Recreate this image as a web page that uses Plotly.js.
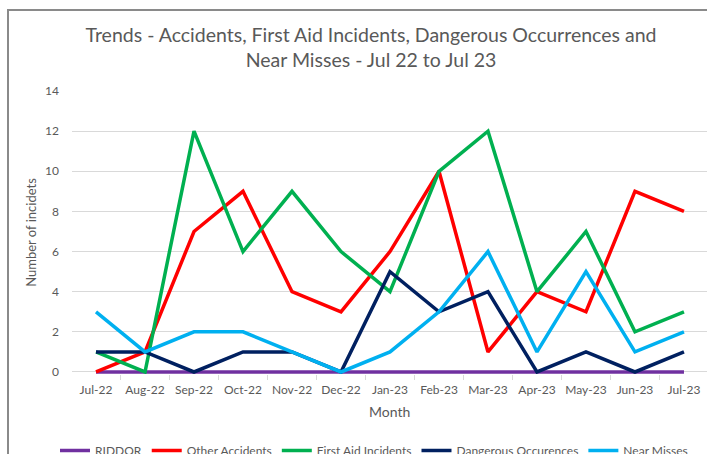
<!DOCTYPE html>
<html>
<head>
<meta charset="utf-8">
<script src="https://cdn.plot.ly/plotly-3.0.1.min.js"></script>
<style>
  html, body { margin: 0; padding: 0; background: #fff; overflow: hidden; }
  #chart { position: absolute; left: 0; top: 0; width: 707px; height: 454px; }
  #frame { position: absolute; left: 7px; top: 9px; width: 760px; height: 500px;
           border-left: 2px solid #8a8a8a; border-top: 2px solid #8a8a8a; pointer-events: none; }
</style>
</head>
<body>
<div id="chart"></div>
<div id="frame"></div>
<script>
const months = ["Jul-22","Aug-22","Sep-22","Oct-22","Nov-22","Dec-22","Jan-23","Feb-23","Mar-23","Apr-23","May-23","Jun-23","Jul-23"];
const riddor          = [0,0,0,0,0,0,0,0,0,0,0,0,0];
const otherAccidents  = [0,1,7,9,4,3,6,10,1,4,3,9,8];
const firstAid        = [1,0,12,6,9,6,4,10,12,4,7,2,3];
const dangerous       = [1,1,0,1,1,0,5,3,4,0,1,0,1];
const nearMisses      = [3,1,2,2,1,0,1,3,6,1,5,1,2];

const FONT = "Lato, 'Open Sans', sans-serif";
const GREY = "#595959";

function tr(name, y, color) {
  return { type: "scatter", mode: "lines", name: name, x: months, y: y,
           line: { color: color, width: 3.5 }, hoverinfo: "x+y+name" };
}

const data = [
  tr("RIDDOR", riddor, "#7030A0"),
  tr("Other Accidents", otherAccidents, "#FF0000"),
  tr("First Aid Incidents", firstAid, "#00B050"),
  tr("Dangerous Occurences", dangerous, "#002060"),
  tr("Near Misses", nearMisses, "#00B0F0")
];

const layout = {
  width: 707, height: 454,
  paper_bgcolor: "rgba(0,0,0,0)", plot_bgcolor: "rgba(0,0,0,0)",
  margin: { l: 72, r: 0, t: 91, b: 80, autoexpand: false },
  font: { family: FONT, color: GREY, size: 12 },
  title: {
    text: "Trends - Accidents, First Aid Incidents, Dangerous Occurrences and<br>Near Misses - Jul 22 to Jul 23",
    font: { family: FONT, size: 19.5, color: GREY },
    xref: "container", x: 371/707, xanchor: "center",
    yref: "container", y: 1 - 42/454, yanchor: "middle"
  },
  xaxis: {
    type: "category", range: [-0.49, 12.47],
    showgrid: false, showline: false, zeroline: false,
    ticks: "outside", tickson: "boundaries", ticklen: 5, tickcolor: "#d9d9d9",
    tickangle: 0, ticklabelstandoff: 7,
    tickfont: { family: FONT, size: 12, color: GREY },
    automargin: false, fixedrange: true
  },
  yaxis: {
    range: [-0.1, 14], dtick: 2, tick0: 0,
    showgrid: true, gridcolor: "#d9d9d9", gridwidth: 1,
    zeroline: true, zerolinecolor: "#d9d9d9", zerolinewidth: 1,
    showline: false, ticks: "", ticklabelstandoff: 12,
    tickfont: { family: FONT, size: 12, color: GREY },
    title: { text: "Number of incidets", font: { family: FONT, size: 13, color: GREY } },
    automargin: false, fixedrange: true
  },
  annotations: [{
    text: "Month", showarrow: false,
    xref: "paper", x: 0.5, xanchor: "center",
    yref: "paper", y: (374 - 411) / 283, yanchor: "middle",
    font: { family: FONT, size: 14, color: GREY }
  }],
  showlegend: true,
  legend: {
    orientation: "h",
    xref: "container", x: 374/707, xanchor: "center",
    yref: "container", y: 18/454, yanchor: "top",
    font: { family: FONT, size: 12, color: GREY },
    itemwidth: 30, tracegroupgap: 0,
    bgcolor: "rgba(0,0,0,0)", traceorder: "normal"
  }
};

Plotly.newPlot("chart", data, layout, { displayModeBar: false, staticPlot: true });
</script>
</body>
</html>
